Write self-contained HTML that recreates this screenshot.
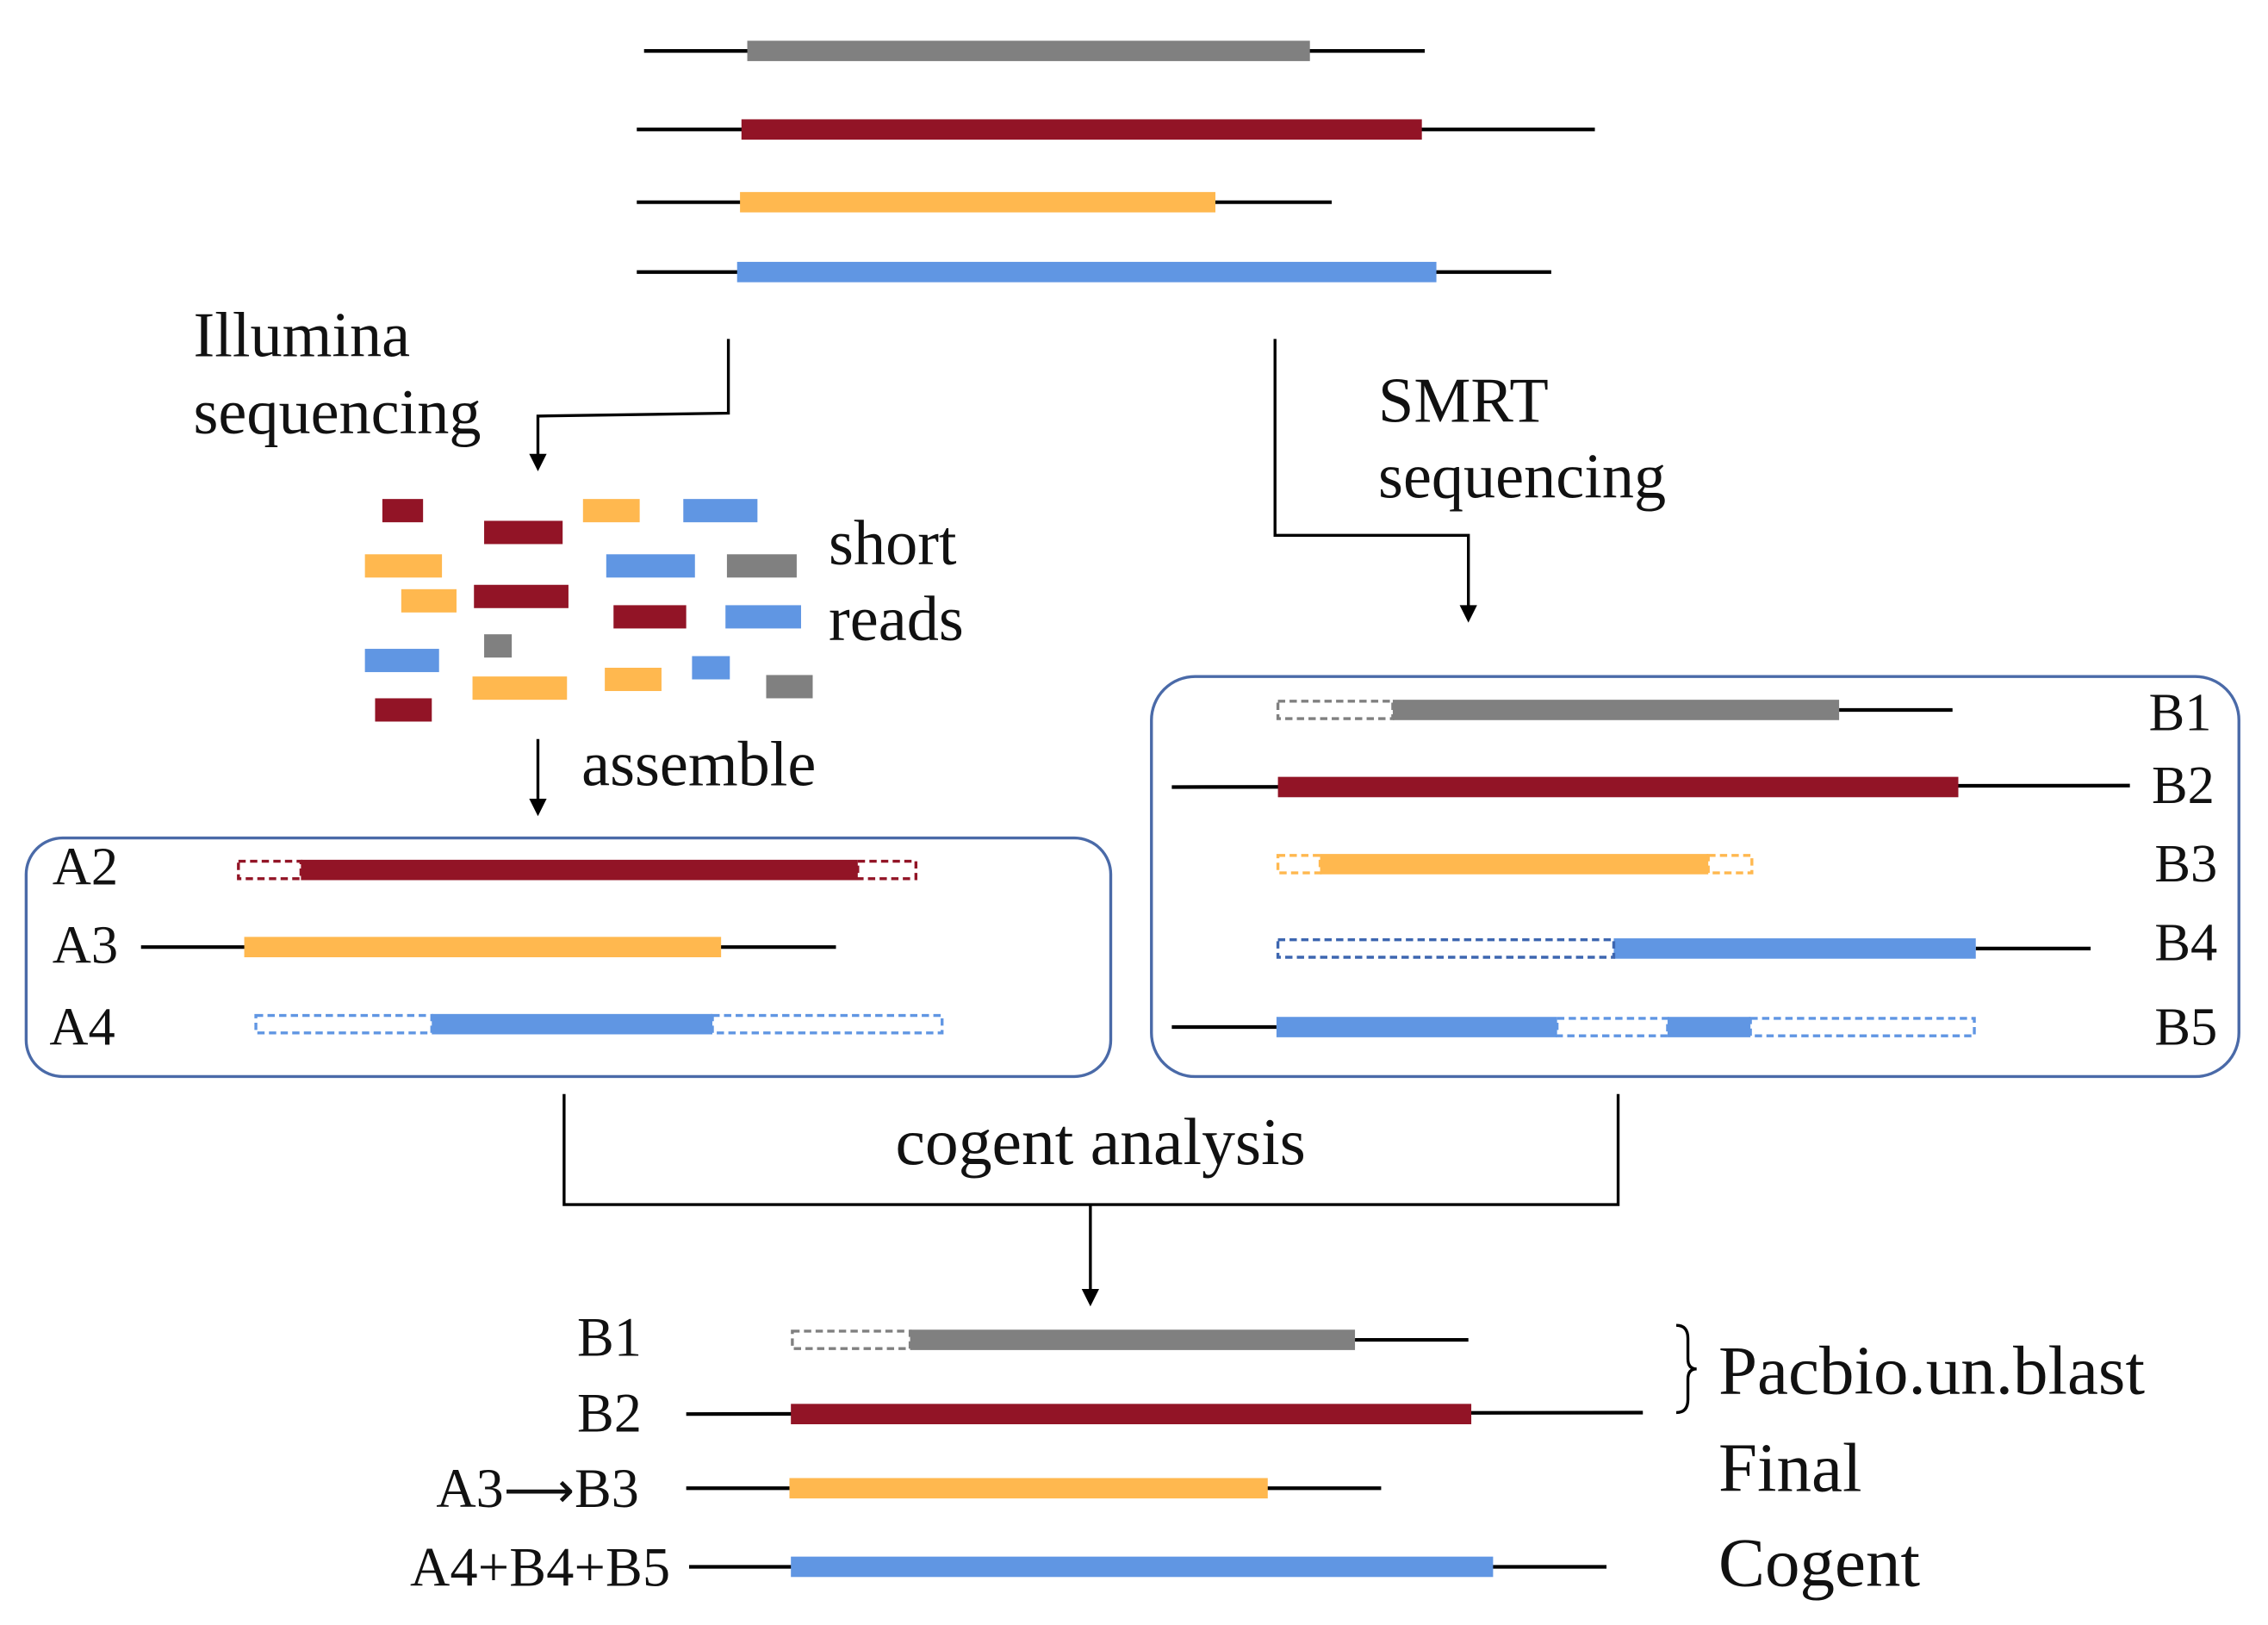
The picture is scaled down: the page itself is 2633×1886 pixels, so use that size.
<!DOCTYPE html>
<html><head><meta charset="utf-8"><style>html,body{margin:0;padding:0;background:#fff}svg{display:block}text{font-family:"Liberation Serif",serif;fill:#111}</style></head><body>
<svg width="2633" height="1886" viewBox="0 0 1560 1117" preserveAspectRatio="none" xmlns="http://www.w3.org/2000/svg">
<g stroke="#000" stroke-width="2.5" fill="none">
<line x1="443" y1="35" x2="980" y2="35"/><line x1="438" y1="89" x2="1097" y2="89"/>
<line x1="438" y1="139" x2="916" y2="139"/><line x1="438" y1="187" x2="1067" y2="187"/>
</g>
<rect x="514" y="28" width="387" height="14" fill="#808080"/>
<rect x="510" y="82" width="468" height="14" fill="#921426"/>
<rect x="509" y="132" width="327" height="14" fill="#FFB84F"/>
<rect x="507" y="180" width="481" height="14" fill="#6096E3"/>
<text x="133" y="245" font-size="44">Illumina</text>
<text x="133" y="298" font-size="44">sequencing</text>
<text x="948" y="290" font-size="44">SMRT</text>
<text x="948" y="342" font-size="44">sequencing</text>
<g stroke="#000" stroke-width="2" fill="none">
<polyline points="501,233 501,284 370,286 370,314"/>
<polyline points="877,233 877,368 1010,368 1010,420"/>
<line x1="370" y1="508" x2="370" y2="552"/>
<polyline points="388,752 388,828 1113,828 1113,752"/>
<line x1="750" y1="828" x2="750" y2="889"/>
</g>
<g fill="#000"><path d="M364,312 L376,312 L370,324 z"/><path d="M1004,416 L1016,416 L1010,428 z"/><path d="M364,549 L376,549 L370,561 z"/><path d="M744,886 L756,886 L750,898 z"/></g>
<g>
<rect x="263" y="343" width="28" height="16" fill="#921426"/><rect x="333" y="358" width="54" height="16" fill="#921426"/>
<rect x="401" y="343" width="39" height="16" fill="#FFB84F"/><rect x="470" y="343" width="51" height="16" fill="#6096E3"/>
<rect x="251" y="381" width="53" height="16" fill="#FFB84F"/><rect x="417" y="381" width="61" height="16" fill="#6096E3"/>
<rect x="500" y="381" width="48" height="16" fill="#808080"/><rect x="276" y="405" width="38" height="16" fill="#FFB84F"/>
<rect x="326" y="402" width="65" height="16" fill="#921426"/><rect x="422" y="416" width="50" height="16" fill="#921426"/>
<rect x="499" y="416" width="52" height="16" fill="#6096E3"/><rect x="333" y="436" width="19" height="16" fill="#808080"/>
<rect x="251" y="446" width="51" height="16" fill="#6096E3"/><rect x="476" y="451" width="26" height="16" fill="#6096E3"/>
<rect x="325" y="465" width="65" height="16" fill="#FFB84F"/><rect x="416" y="459" width="39" height="16" fill="#FFB84F"/>
<rect x="527" y="464" width="32" height="16" fill="#808080"/><rect x="258" y="480" width="39" height="16" fill="#921426"/>
</g>
<text x="570" y="388" font-size="44">short</text>
<text x="570" y="440" font-size="44">reads</text>
<text x="400" y="540" font-size="44">assemble</text>
<rect x="18" y="576" width="746" height="164" rx="25" fill="none" stroke="#4a6aa8" stroke-width="2"/>
<rect x="792" y="465" width="748" height="275" rx="30" fill="none" stroke="#4a6aa8" stroke-width="2"/>
<text x="36" y="608" font-size="37">A2</text>
<text x="36" y="662" font-size="37">A3</text>
<text x="34" y="718" font-size="37">A4</text>
<rect x="207" y="591" width="383" height="14" fill="#921426"/>
<rect x="164" y="592" width="43" height="12" fill="none" stroke="#921426" stroke-width="2" stroke-dasharray="5,3"/>
<rect x="590" y="592" width="40" height="12" fill="none" stroke="#921426" stroke-width="2" stroke-dasharray="5,3"/>
<line x1="97" y1="651" x2="575" y2="651" stroke="#000" stroke-width="2.5"/>
<rect x="168" y="644" width="328" height="14" fill="#FFB84F"/>
<rect x="297" y="697" width="193" height="14" fill="#6096E3"/>
<rect x="176" y="698" width="121" height="12" fill="none" stroke="#6096E3" stroke-width="2" stroke-dasharray="5,3"/>
<rect x="490" y="698" width="158" height="12" fill="none" stroke="#6096E3" stroke-width="2" stroke-dasharray="5,3"/>
<g stroke="#000" stroke-width="2.5"><line x1="1265" y1="488" x2="1343" y2="488"/><line x1="806" y1="541" x2="1465" y2="540"/><line x1="1359" y1="652" x2="1438" y2="652"/><line x1="806" y1="706" x2="878" y2="706"/></g>
<rect x="958" y="481" width="307" height="14" fill="#808080"/>
<rect x="879" y="482" width="79" height="12" fill="none" stroke="#808080" stroke-width="2" stroke-dasharray="5,3"/>
<rect x="879" y="534" width="468" height="14" fill="#921426"/>
<rect x="908" y="587" width="267" height="14" fill="#FFB84F"/>
<rect x="879" y="588" width="29" height="12" fill="none" stroke="#FFB84F" stroke-width="2" stroke-dasharray="5,3"/>
<rect x="1175" y="588" width="30" height="12" fill="none" stroke="#FFB84F" stroke-width="2" stroke-dasharray="5,3"/>
<rect x="1110" y="645" width="249" height="14" fill="#6096E3"/>
<rect x="879" y="646" width="231" height="12" fill="none" stroke="#3d66b0" stroke-width="2" stroke-dasharray="5,3"/>
<rect x="878" y="699" width="193" height="14" fill="#6096E3"/>
<rect x="1147" y="699" width="57" height="14" fill="#6096E3"/>
<rect x="1071" y="700" width="76" height="12" fill="none" stroke="#6096E3" stroke-width="2" stroke-dasharray="5,3"/>
<rect x="1204" y="700" width="154" height="12" fill="none" stroke="#6096E3" stroke-width="2" stroke-dasharray="5,3"/>
<text x="1478" y="502" font-size="37">B1</text>
<text x="1480" y="552" font-size="37">B2</text>
<text x="1482" y="606" font-size="37">B3</text>
<text x="1482" y="660" font-size="37">B4</text>
<text x="1482" y="718" font-size="37">B5</text>
<text x="757" y="800" font-size="46" text-anchor="middle">cogent analysis</text>
<text x="397" y="932" font-size="38">B1</text>
<text x="397" y="984" font-size="38">B2</text>
<text x="300" y="1036" font-size="38">A3<tspan font-family="DejaVu Sans" font-size="34">⟶</tspan>B3</text>
<text x="282" y="1090" font-size="38" textLength="179">A4+B4+B5</text>
<g stroke="#000" stroke-width="2.5"><line x1="932" y1="921" x2="1010" y2="921"/><line x1="472" y1="972" x2="1130" y2="971"/><line x1="472" y1="1023" x2="950" y2="1023"/><line x1="474" y1="1077" x2="1105" y2="1077"/></g>
<rect x="626" y="914" width="306" height="14" fill="#808080"/>
<rect x="545" y="915" width="81" height="12" fill="none" stroke="#808080" stroke-width="2" stroke-dasharray="5,3"/>
<rect x="544" y="965" width="468" height="14" fill="#921426"/>
<rect x="543" y="1016" width="329" height="14" fill="#FFB84F"/>
<rect x="544" y="1070" width="483" height="14" fill="#6096E3"/>
<path d="M1153,911 Q1161,911 1161,920 L1161,934 Q1161,941 1167,941 Q1161,941 1161,948 L1161,962 Q1161,971 1153,971" fill="none" stroke="#000" stroke-width="2"/>
<text x="1182" y="958" font-size="48">Pacbio.un.blast</text>
<text x="1182" y="1025" font-size="48">Final</text>
<text x="1182" y="1090" font-size="48">Cogent</text>
</svg>
</body></html>
